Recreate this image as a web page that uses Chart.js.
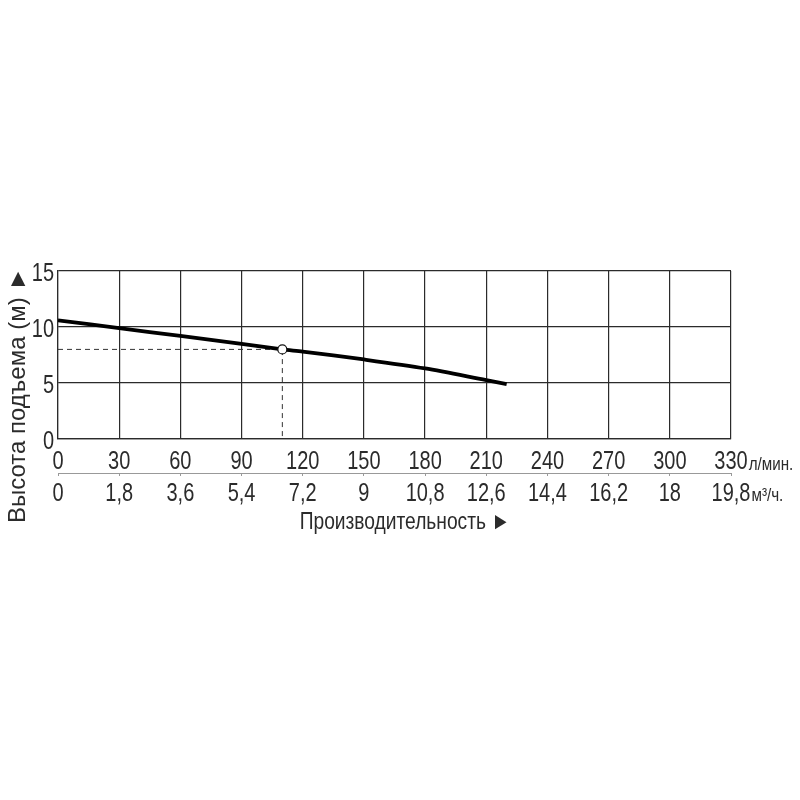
<!DOCTYPE html>
<html>
<head>
<meta charset="utf-8">
<script src="https://cdn.jsdelivr.net/npm/chart.js@4"></script>
<style>
  html, body { margin: 0; padding: 0; background: #fff; }
  #wrap { width: 800px; height: 800px; }
</style>
</head>
<body>
<div id="wrap"><canvas id="pumpChart"></canvas></div>
<script>
// данные кривой насоса (л/мин -> м)
const flowLmin = [0, 30, 60, 90, 110, 120, 150, 180, 210, 220];
const headM = [10.6, 9.9, 9.2, 8.5, 8.0, 7.8, 7.1, 6.3, 5.25, 4.9];

// рабочая точка
const opFlow = 110;
const opHead = 8;

// подписи осей
const flowTicks = [0, 30, 60, 90, 120, 150, 180, 210, 240, 270, 300, 330];
const flowM3Labels = ["0", "1,8", "3,6", "5,4", "7,2", "9", "10,8", "12,6", "14,4", "16,2", "18", "19,8"];
const headTicks = [0, 5, 10, 15];

const FONT = "'Liberation Sans', Arial, sans-serif";
const INK = "#2b2b2b";
const SQUEEZE = 0.8; // узкий шрифт, как в оригинале

Chart.defaults.font.family = FONT;
Chart.defaults.color = INK;

const ctx = document.getElementById("pumpChart").getContext("2d");

function narrowText(c, text, x, y, align, size) {
  c.save();
  c.font = size + "px " + FONT;
  c.translate(x, y);
  c.scale(SQUEEZE, 1);
  c.textAlign = align;
  c.textBaseline = "middle";
  c.fillStyle = INK;
  c.fillText(text, 0, 0);
  const w = c.measureText(text).width * SQUEEZE;
  c.restore();
  return w;
}

// подписи делений узким шрифтом + единицы и заголовки осей
const axisText = {
  id: "axisText",
  afterDraw(chart) {
    const c = chart.ctx;
    const x = chart.scales.x;
    const y = chart.scales.y;

    let w1 = 0;
    let w2 = 0;
    flowTicks.forEach((v, i) => {
      const px = x.getPixelForValue(v);
      w1 = narrowText(c, String(v), px, 462, "center", 25);
      w2 = narrowText(c, flowM3Labels[i], px, 494, "center", 25);
    });
    headTicks.forEach((v) => {
      narrowText(c, String(v), 54, y.getPixelForValue(v) + 3, "right", 25);
    });

    const pxLast = x.getPixelForValue(flowTicks[flowTicks.length - 1]);
    narrowText(c, "л/мин.", pxLast + w1 / 2 + 1, 465, "left", 19);
    narrowText(c, "м³/ч.", pxLast + w2 / 2 + 1, 496, "left", 19);

    narrowText(c, "Производительность ►", 405, 522, "center", 24);

    c.save();
    c.translate(18, 395);
    c.rotate(-Math.PI / 2);
    c.font = "24px " + FONT;
    c.textAlign = "center";
    c.textBaseline = "middle";
    c.fillStyle = INK;
    c.fillText("Высота подъема (м) ►", 0, 0);
    c.restore();
  },
};

new Chart(ctx, {
  type: "line",
  data: {
    datasets: [
      {
        label: "Напор",
        data: flowLmin.map((f, i) => ({ x: f, y: headM[i] })),
        borderColor: "#000",
        borderWidth: 3.8,
        tension: 0.3,
        pointRadius: flowLmin.map((f) => (f === opFlow ? 4.5 : 0)),
        pointBackgroundColor: "#fff",
        pointBorderColor: "#111",
        pointBorderWidth: 1.2,
        order: 0,
      },
      {
        label: "Рабочая точка",
        data: [
          { x: 0, y: opHead },
          { x: opFlow, y: opHead },
          { x: opFlow, y: 0 },
        ],
        borderColor: "#333",
        borderWidth: 1,
        borderDash: [5, 4],
        pointRadius: 0,
        tension: 0,
        order: 1,
      },
    ],
  },
  plugins: [axisText],
  options: {
    responsive: true,
    maintainAspectRatio: false,
    animation: false,
    layout: { padding: { top: 271, right: 69, left: 0, bottom: 287 } },
    plugins: {
      legend: { display: false },
      tooltip: { enabled: false },
    },
    scales: {
      x: {
        type: "linear",
        position: "bottom",
        weight: 1,
        min: 0,
        max: 330,
        afterBuildTicks: (s) => { s.ticks = flowTicks.map((v) => ({ value: v })); },
        afterFit: (s) => { s.height = 34; },
        grid: { color: INK, lineWidth: 1.2, drawTicks: false },
        border: { color: INK, width: 1.2 },
        ticks: { display: false },
      },
      x2: {
        type: "linear",
        position: "bottom",
        weight: 2,
        min: 0,
        max: 330,
        afterBuildTicks: (s) => { s.ticks = flowTicks.map((v) => ({ value: v })); },
        afterFit: (s) => { s.height = 40; },
        grid: { drawOnChartArea: false, color: "#999", tickLength: 3 },
        border: { color: "#999", width: 1 },
        ticks: { display: false },
      },
      y: {
        type: "linear",
        min: 0,
        max: 15,
        afterBuildTicks: (s) => { s.ticks = headTicks.map((v) => ({ value: v })); },
        afterFit: (s) => { s.width = 58; },
        grid: { color: INK, lineWidth: 1.2, drawTicks: false },
        border: { color: INK, width: 1.2 },
        ticks: { display: false },
      },
    },
  },
});
</script>
</body>
</html>
